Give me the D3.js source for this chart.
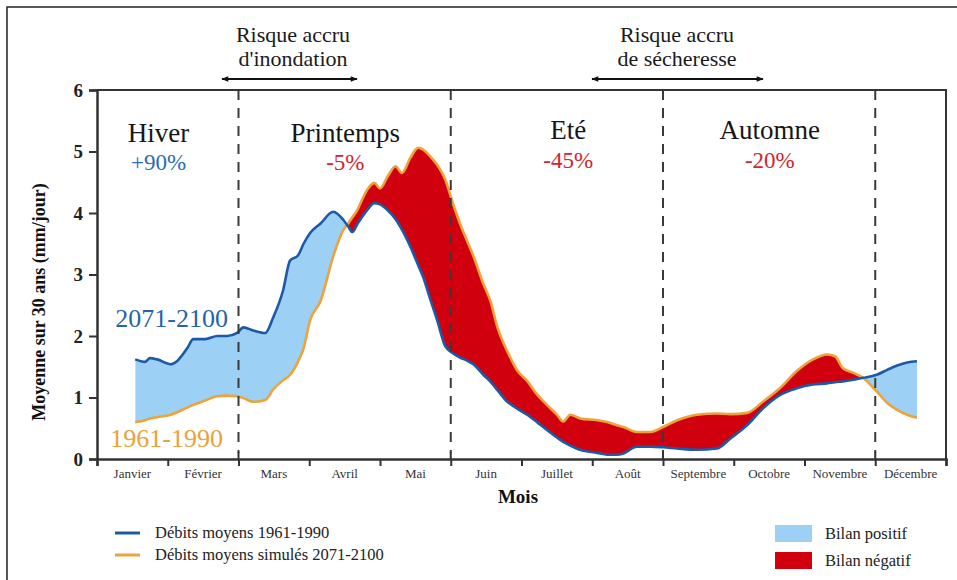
<!DOCTYPE html>
<html>
<head>
<meta charset="utf-8">
<script src="https://cdn.jsdelivr.net/npm/d3@7"></script>
<style>
  body { margin: 0; background: #fff; }
  svg { display: block; }
  svg text { font-family: "Liberation Serif", "Times New Roman", serif; }
</style>
</head>
<body>
<div id="chart"></div>
<script>
// position in months (0 = 1er janvier, 12 = 31 décembre)
const monthPos = [0.54, 0.68, 0.75, 0.85, 1.04, 1.13, 1.28, 1.36, 1.53, 1.70, 1.84, 1.98, 2.07, 2.21, 2.38,
  2.49, 2.63, 2.73, 2.84, 2.92, 3.01, 3.16, 3.34, 3.48, 3.55, 3.61, 3.68, 3.72, 3.82, 3.92, 4.00, 4.12,
  4.22, 4.31, 4.43, 4.54, 4.61, 4.71, 4.81, 4.92, 5.03, 5.13, 5.23, 5.32, 5.46, 5.56, 5.66, 5.80, 5.94,
  6.08, 6.22, 6.36, 6.50, 6.59, 6.69, 6.83, 7.07, 7.21, 7.35, 7.44, 7.63, 7.82, 8.00, 8.20, 8.48, 8.76,
  8.95, 9.19, 9.41, 9.65, 9.89, 10.12, 10.32, 10.43, 10.54, 10.69, 10.83, 11.02, 11.17, 11.31, 11.45, 11.59];

// blue curve (mm/jour)
const serieBleue = [1.62, 1.58, 1.64, 1.62, 1.54, 1.59, 1.81, 1.95, 1.95, 2.00, 2.00, 2.05, 2.14, 2.09, 2.05,
  2.30, 2.74, 3.23, 3.31, 3.50, 3.67, 3.83, 4.02, 3.89, 3.78, 3.69, 3.82, 3.89, 4.05, 4.16, 4.14, 4.03,
  3.90, 3.73, 3.45, 3.15, 2.96, 2.60, 2.25, 1.84, 1.72, 1.65, 1.60, 1.54, 1.37, 1.26, 1.12, 0.93, 0.82,
  0.72, 0.60, 0.47, 0.35, 0.28, 0.22, 0.15, 0.10, 0.07, 0.07, 0.09, 0.20, 0.20, 0.19, 0.17, 0.15, 0.17,
  0.33, 0.55, 0.82, 1.04, 1.15, 1.21, 1.23, 1.25, 1.26, 1.29, 1.32, 1.37, 1.45, 1.52, 1.57, 1.59];

// orange curve (mm/jour)
const serieOrange = [0.60, 0.63, 0.66, 0.68, 0.72, 0.76, 0.84, 0.88, 0.95, 1.02, 1.03, 1.02, 0.99, 0.93, 0.96,
  1.13, 1.28, 1.37, 1.58, 1.80, 2.25, 2.57, 3.30, 3.72, 3.83, 3.93, 4.05, 4.15, 4.38, 4.49, 4.40, 4.62,
  4.76, 4.65, 4.90, 5.06, 5.03, 4.92, 4.78, 4.55, 4.16, 3.83, 3.55, 3.30, 2.85, 2.57, 2.14, 1.75, 1.44,
  1.27, 1.05, 0.88, 0.72, 0.61, 0.72, 0.66, 0.63, 0.60, 0.55, 0.52, 0.44, 0.44, 0.52, 0.63, 0.72, 0.74,
  0.73, 0.75, 0.93, 1.15, 1.43, 1.62, 1.70, 1.67, 1.48, 1.40, 1.32, 1.10, 0.91, 0.80, 0.72, 0.67];

const months = ['Janvier', 'Février', 'Mars', 'Avril', 'Mai', 'Juin', 'Juillet', 'Août',
  'Septembre', 'Octobre', 'Novembre', 'Décembre'];
const yTicks = [0, 1, 2, 3, 4, 5, 6];
const seasonBounds = [2, 5, 8, 11];
const seasons = ['Hiver', 'Printemps', 'Eté', 'Automne'];
const seasonChange = ['+90%', '-5%', '-45%', '-20%'];
const seasonCenter = [0.87, 3.51, 6.66, 9.51];
const legendLines = ['Débits moyens 1961-1990', 'Débits moyens simulés 2071-2100'];
const legendBilan = ['Bilan positif', 'Bilan négatif'];

const serif = '"Liberation Serif", "Times New Roman", serif';
const blue = '#1c5aa8';
const orange = '#eea33a';
const lightBlue = '#9dd0f5';
const red = '#d0000e';
const textBlue = '#2b6cb3';
const textRed = '#d2232f';
const axisColor = '#333';

const width = 957, height = 580;
const svg = d3.select('#chart').append('svg')
  .attr('width', width)
  .attr('height', height);

const x = d3.scaleLinear().domain([0, 12]).range([97, 946]);
const y = d3.scaleLinear().domain([0, 6]).range([459, 90]);

const pts = monthPos.map((m, i) => ({ m: m, b: serieBleue[i], o: serieOrange[i] }));

// outer frame of the picture
svg.append('path')
  .attr('d', `M7,${height} V7 H${width}`)
  .attr('fill', 'none')
  .attr('stroke', '#222')
  .attr('stroke-width', 1.5);

const defs = svg.append('defs');
defs.append('clipPath').attr('id', 'above')
  .append('path')
  .attr('d', d3.area().curve(d3.curveMonotoneX).x(d => x(d.m)).y0(0).y1(d => y(d.o))(pts));
defs.append('clipPath').attr('id', 'below')
  .append('path')
  .attr('d', d3.area().curve(d3.curveMonotoneX).x(d => x(d.m)).y0(height).y1(d => y(d.o))(pts));

defs.append('marker')
  .attr('id', 'arrow')
  .attr('viewBox', '0 0 10 10')
  .attr('refX', 9).attr('refY', 5)
  .attr('markerWidth', 11).attr('markerHeight', 7)
  .attr('markerUnits', 'userSpaceOnUse')
  .attr('orient', 'auto-start-reverse')
  .append('path')
  .attr('d', 'M0,1 L10,5 L0,9 Z')
  .attr('fill', '#111');

const between = d3.area()
  .curve(d3.curveMonotoneX)
  .x(d => x(d.m))
  .y0(d => y(d.o))
  .y1(d => y(d.b));

svg.append('path')
  .datum(pts)
  .attr('clip-path', 'url(#above)')
  .attr('fill', lightBlue)
  .attr('d', between);

svg.append('path')
  .datum(pts)
  .attr('clip-path', 'url(#below)')
  .attr('fill', red)
  .attr('d', between);

const lineO = d3.line().curve(d3.curveMonotoneX).x(d => x(d.m)).y(d => y(d.o));
const lineB = d3.line().curve(d3.curveMonotoneX).x(d => x(d.m)).y(d => y(d.b));

svg.append('path').datum(pts)
  .attr('fill', 'none')
  .attr('stroke', orange)
  .attr('stroke-width', 2.6)
  .attr('d', lineO);

svg.append('path').datum(pts)
  .attr('fill', 'none')
  .attr('stroke', blue)
  .attr('stroke-width', 2.6)
  .attr('d', lineB);

// season separators
svg.selectAll('.sep')
  .data(seasonBounds)
  .enter().append('line')
  .attr('class', 'sep')
  .attr('x1', d => x(d)).attr('x2', d => x(d))
  .attr('y1', y(6)).attr('y2', y(0) - 6)
  .attr('stroke', '#3a3a3a')
  .attr('stroke-width', 2)
  .attr('stroke-dasharray', '10,8');

// plot box (top and right)
svg.append('path')
  .attr('d', `M${x(0)},${y(6)} H${x(12)} V${y(0)}`)
  .attr('fill', 'none')
  .attr('stroke', axisColor)
  .attr('stroke-width', 2);

// axes
const yAxis = svg.append('g')
  .attr('transform', `translate(${x(0)},0)`)
  .call(d3.axisLeft(y).tickValues(yTicks).tickSize(8).tickPadding(6).tickFormat(d3.format('d')));
yAxis.select('.domain').attr('stroke', axisColor).attr('stroke-width', 2.5);
yAxis.selectAll('.tick line').attr('stroke', axisColor).attr('stroke-width', 2);
yAxis.selectAll('.tick text')
  .attr('fill', '#222')
  .style('font-family', serif)
  .style('font-size', '19px')
  .style('font-weight', 'bold');

const xAxis = svg.append('g')
  .attr('transform', `translate(0,${y(0)})`)
  .call(d3.axisBottom(x).tickValues(d3.range(0, 13)).tickSize(7).tickFormat(''));
xAxis.select('.domain').attr('stroke', axisColor).attr('stroke-width', 2.5);
xAxis.selectAll('.tick line').attr('stroke', axisColor).attr('stroke-width', 2);

// longer marks at the season limits
svg.selectAll('.major')
  .data(seasonBounds)
  .enter().append('line')
  .attr('x1', d => x(d)).attr('x2', d => x(d))
  .attr('y1', y(0) - 7).attr('y2', y(0))
  .attr('stroke', axisColor)
  .attr('stroke-width', 2);

svg.selectAll('.month')
  .data(months)
  .enter().append('text')
  .attr('x', (d, i) => x(i + 0.5))
  .attr('y', 478)
  .attr('text-anchor', 'middle')
  .attr('fill', '#333')
  .style('font-family', serif)
  .style('font-size', '13px')
  .text(d => d);

svg.append('text')
  .attr('x', 518).attr('y', 503)
  .attr('text-anchor', 'middle')
  .attr('fill', '#111')
  .style('font-family', serif)
  .style('font-size', '19px')
  .style('font-weight', 'bold')
  .text('Mois');

svg.append('text')
  .attr('transform', 'translate(45,302) rotate(-90)')
  .attr('text-anchor', 'middle')
  .attr('fill', '#111')
  .style('font-family', serif)
  .style('font-size', '18px')
  .style('font-weight', 'bold')
  .text('Moyenne sur 30 ans (mm/jour)');

// seasons
svg.selectAll('.season')
  .data(seasons)
  .enter().append('text')
  .attr('x', (d, i) => x(seasonCenter[i]))
  .attr('y', (d, i) => i < 2 ? 142 : 139)
  .attr('text-anchor', 'middle')
  .attr('fill', '#161616')
  .style('font-family', serif)
  .style('font-size', '27px')
  .text(d => d);

svg.selectAll('.change')
  .data(seasonChange)
  .enter().append('text')
  .attr('x', (d, i) => x(seasonCenter[i]))
  .attr('y', (d, i) => i < 2 ? 170 : 168)
  .attr('text-anchor', 'middle')
  .attr('fill', (d, i) => i === 0 ? textBlue : textRed)
  .style('font-family', serif)
  .style('font-size', '23px')
  .text(d => d);

// period labels on the curves
svg.append('text')
  .attr('x', 228).attr('y', 327)
  .attr('text-anchor', 'end')
  .attr('fill', '#2464ad')
  .style('font-family', serif)
  .style('font-size', '26px')
  .text('2071-2100');

svg.append('text')
  .attr('x', 223).attr('y', 447)
  .attr('text-anchor', 'end')
  .attr('fill', '#e8a23a')
  .style('font-family', serif)
  .style('font-size', '26px')
  .text('1961-1990');

// risk annotations
const risks = [
  { l1: 'Risque accru', l2: "d'inondation", cx: 293, from: 222, to: 357 },
  { l1: 'Risque accru', l2: 'de sécheresse', cx: 677, from: 592, to: 763 }
];
risks.forEach(r => {
  svg.append('text').attr('x', r.cx).attr('y', 42)
    .attr('text-anchor', 'middle').attr('fill', '#1a1a1a')
    .style('font-family', serif)
    .style('font-size', '22px').text(r.l1);
  svg.append('text').attr('x', r.cx).attr('y', 66)
    .attr('text-anchor', 'middle').attr('fill', '#1a1a1a')
    .style('font-family', serif)
    .style('font-size', '22px').text(r.l2);
  svg.append('line')
    .attr('x1', r.from).attr('x2', r.to)
    .attr('y1', 79).attr('y2', 79)
    .attr('stroke', '#111').attr('stroke-width', 2)
    .attr('marker-start', 'url(#arrow)')
    .attr('marker-end', 'url(#arrow)');
});

// legend
const legL = svg.append('g');
[blue, orange].forEach((c, i) => {
  legL.append('line')
    .attr('x1', 115).attr('x2', 140)
    .attr('y1', 533 + i * 22).attr('y2', 533 + i * 22)
    .attr('stroke', c).attr('stroke-width', 3);
  legL.append('text')
    .attr('x', 155).attr('y', 538 + i * 22)
    .attr('fill', '#222')
    .style('font-family', serif)
    .style('font-size', '16.5px')
    .text(legendLines[i]);
});

const legR = svg.append('g');
[lightBlue, red].forEach((c, i) => {
  legR.append('rect')
    .attr('x', 775).attr('y', 525 + i * 27)
    .attr('width', 37).attr('height', 17)
    .attr('fill', c);
  legR.append('text')
    .attr('x', 825).attr('y', 539 + i * 27)
    .attr('fill', '#222')
    .style('font-family', serif)
    .style('font-size', '16.5px')
    .text(legendBilan[i]);
});
</script>
</body>
</html>
